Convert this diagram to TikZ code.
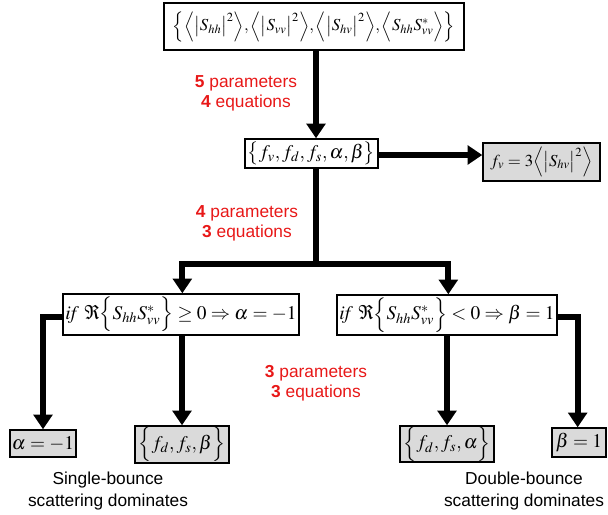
\documentclass[tikz,border=0pt]{standalone}
\usepackage{mathptmx}
\usepackage[no-math]{fontspec}
\setmainfont{Liberation Sans}
\usetikzlibrary{arrows.meta}
\definecolor{lblred}{RGB}{232,24,24}
\definecolor{boxgray}{RGB}{218,218,218}
\begin{document}
\begin{tikzpicture}[x=0.75pt,y=-0.75pt,
  box/.style={draw=black,line width=1.1pt,inner sep=0pt,align=center,font=\fontsize{14.5}{17}\selectfont},
  graybox/.style={box,fill=boxgray},
  flow/.style={line width=4.5pt,line join=miter},
  arr/.style={flow,-{Triangle[length=11pt,width=14pt]}},
  lbl/.style={text=lblred,font=\fontsize{13}{15}\selectfont,align=center,inner sep=0pt},
  note/.style={font=\fontsize{13}{16.5}\selectfont,align=center,inner sep=0pt}]
\useasboundingbox (0,0) rectangle (608,515);
% nodes
\node[box,font=\fontsize{12.6}{15}\selectfont,minimum width=300*0.75pt,minimum height=47*0.75pt] (top) at (314,26.5)
  {$\Bigl\{\Bigl\langle\bigl|S_{hh}\bigr|^{2}\Bigr\rangle,\Bigl\langle\bigl|S_{vv}\bigr|^{2}\Bigr\rangle,\Bigl\langle\bigl|S_{hv}\bigr|^{2}\Bigr\rangle,\Bigl\langle S_{hh}S_{vv}^{*}\Bigr\rangle\Bigr\}$};
\node[box,minimum width=133*0.75pt,minimum height=29*0.75pt] (mid) at (311.5,153.5)
  {$\bigl\{f_{v},f_{d},f_{s},\alpha,\beta\bigr\}$};
\node[graybox,font=\fontsize{12.6}{15}\selectfont,minimum width=117*0.75pt,minimum height=38*0.75pt] (fv) at (541.5,162)
  {$f_{v}=3\Bigl\langle\bigl|S_{hv}\bigr|^{2}\Bigr\rangle$};
\node[box,minimum width=236*0.75pt,minimum height=41*0.75pt] (condl) at (181,314.5)
  {$\mathit{if}\ \Re\Bigl\{S_{hh}S_{vv}^{*}\Bigr\}\ge 0\Rightarrow\alpha=-1$};
\node[box,minimum width=220*0.75pt,minimum height=40*0.75pt] (condr) at (447,315)
  {$\mathit{if}\ \Re\Bigl\{S_{hh}S_{vv}^{*}\Bigr\}<0\Rightarrow\beta=1$};
\node[graybox,minimum width=66*0.75pt,minimum height=27*0.75pt] (alpha) at (43,443.5)
  {$\alpha=-1$};
\node[graybox,minimum width=94*0.75pt,minimum height=37*0.75pt] (fdfsb) at (182,444.5)
  {$\Bigl\{f_{d},f_{s},\beta\Bigr\}$};
\node[graybox,minimum width=94*0.75pt,minimum height=36*0.75pt] (fdfsa) at (447,444)
  {$\Bigl\{f_{d},f_{s},\alpha\Bigr\}$};
\node[graybox,minimum width=54*0.75pt,minimum height=29*0.75pt] (beta) at (579,442.5)
  {$\beta=1$};
% labels
\node[lbl] (l1) at (246,93) {\textbf{5} parameters\\\textbf{4} equations};
\node[lbl] (l2) at (247,223) {\textbf{4} parameters\\\textbf{3} equations};
\node[lbl] (l3) at (316,383) {\textbf{3} parameters\\\textbf{3} equations};
\node[note] (n1) at (108,491) {Single-bounce\\scattering dominates};
\node[note] (n2) at (524,491) {Double-bounce\\scattering dominates};
% helper coordinates
\coordinate (spine) at (316,0);
\coordinate (bar) at (0,264);
\coordinate (side) at (0,317);
% connectors
\draw[arr] (top.south -| spine) -- (mid.north -| spine);
\draw[arr] (mid.east |- 0,155) -- (fv.west |- 0,155);
\draw[flow] (mid.south -| spine) -- (spine |- bar);
\draw[arr] (spine |- bar) -| ([xshift=1]condl.north);
\draw[arr] (spine |- bar) -| ([xshift=1]condr.north);
\draw[arr] (condl.west |- side) -| (alpha.north);
\draw[arr] (condl.south -| fdfsb.north) -- (fdfsb.north);
\draw[arr] (condr.south -| fdfsa.north) -- (fdfsa.north);
\draw[arr] (condr.east |- side) -| ([xshift=-1]beta.north);
\end{tikzpicture}
\end{document}
